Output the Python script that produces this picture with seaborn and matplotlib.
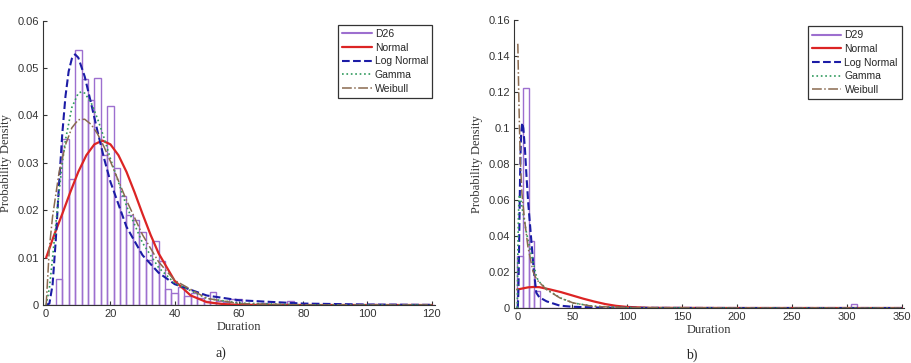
import matplotlib
matplotlib.use("Agg")
import matplotlib.pyplot as plt
import seaborn as sns
from matplotlib.lines import Line2D

# ---- panel a) D26 ----
d26_centers = [3, 5, 7, 9, 11, 13, 15, 17, 19, 21, 23, 25, 27, 29, 31, 33, 35, 37, 39, 41,
               43, 45, 47, 49, 51, 53, 55, 57, 59, 67, 75, 101, 107]
d26_heights = [0.0055, 0.035, 0.0266, 0.0538, 0.0476, 0.0433, 0.0478, 0.0316, 0.042, 0.029,
               0.023, 0.019, 0.018, 0.0153, 0.0095, 0.0134, 0.0093, 0.0033, 0.0026, 0.0039,
               0.0018, 0.0025, 0.0014, 0.0008, 0.0027, 0.0008, 0.0006, 0.0012, 0.0012, 0.0005,
               0.0008, 0.0003, 0.0003]

a_norm_x = [0, 2.5, 5, 7.5, 10, 12.5, 15, 17.5, 20, 22.5, 25, 27.5, 30, 32.5, 35, 40, 45, 50, 55, 60, 80, 120]
a_norm_y = [0.0100, 0.0148, 0.0192, 0.0238, 0.0281, 0.0316, 0.0339, 0.0347, 0.0339, 0.0316, 0.0281,
            0.0238, 0.0192, 0.0148, 0.0109, 0.0051, 0.0020, 0.0006, 0.0002, 0.00003, 0, 0]
a_logn_x = [0, 1, 2, 3, 4, 5, 6, 7, 8, 9, 10, 12, 14, 16, 18, 20, 25, 30, 35, 40, 50, 60, 80, 100, 120]
a_logn_y = [0, 0.0003, 0.0043, 0.0138, 0.0254, 0.036, 0.044, 0.0493, 0.052, 0.0529, 0.0522, 0.0482,
            0.0425, 0.0366, 0.031, 0.026, 0.0165, 0.0105, 0.0068, 0.0044, 0.002, 0.001, 0.0003,
            0.0001, 0.00003]
a_gam_x = [0, 1, 2, 3, 4, 5, 6, 8, 10, 11, 12, 14, 16, 18, 20, 25, 30, 35, 40, 50, 60, 80, 120]
a_gam_y = [0, 0.0036, 0.0100, 0.0170, 0.0238, 0.0298, 0.0348, 0.0417, 0.0447, 0.0450, 0.0447,
           0.0427, 0.0393, 0.0353, 0.0309, 0.0209, 0.0131, 0.0079, 0.0046, 0.0014, 0.0004, 0.00003, 0]
a_weib_x = [0, 1, 2, 4, 6, 8, 10, 12, 14, 16, 18, 20, 25, 30, 35, 40, 50, 60, 80, 120]
a_weib_y = [0, 0.0121, 0.0187, 0.0279, 0.0338, 0.0374, 0.0391, 0.0392, 0.0381, 0.0361, 0.0334,
            0.0303, 0.0221, 0.0148, 0.0091, 0.0052, 0.0014, 0.0003, 0, 0]

# ---- panel b) D29 ----
d29_centers = [2.6, 7.7, 12.9, 18.0, 306.4]
d29_heights = [0.029, 0.1225, 0.037, 0.0092, 0.002]

b_norm_x = [0, 10, 15, 20, 30, 40, 50, 60, 70, 80, 90, 100, 120, 200, 350]
b_norm_y = [0.0103, 0.0115, 0.0117, 0.0116, 0.0103, 0.0088, 0.0070, 0.0052, 0.0036, 0.0022,
            0.0012, 0.0006, 0.0001, 0, 0]
b_logn_x = [0, 0.5, 1, 1.5, 2, 2.5, 3, 3.5, 4.5, 5.5, 7, 8.5, 10, 12.7, 15, 17.3, 20, 26.7,
            38.8, 50, 70, 100, 200, 350]
b_logn_y = [0, 0.001, 0.009, 0.028, 0.051, 0.072, 0.087, 0.097, 0.103, 0.100, 0.088, 0.072,
            0.058, 0.038, 0.021, 0.0085, 0.006, 0.0037, 0.0013, 0.0007, 0.0003, 0.0001, 0, 0]
b_gam_x = [0, 0.5, 1, 1.5, 2, 3, 4, 6, 8, 10, 12.7, 15, 17.6, 20, 26.7, 38.8, 51, 69, 100, 200, 350]
b_gam_y = [0, 0.03, 0.05, 0.06, 0.063, 0.061, 0.057, 0.050, 0.043, 0.037, 0.030, 0.024, 0.017,
           0.0145, 0.0105, 0.0057, 0.0028, 0.0010, 0.0002, 0, 0]
b_weib_x = [0.3, 0.5, 1.2, 1.8, 2.7, 4.2, 6.6, 9.7, 14.2, 17.6, 26.7, 38.8, 51, 69, 100, 200, 350]
b_weib_y = [0.147, 0.1465, 0.123, 0.105, 0.0825, 0.064, 0.049, 0.034, 0.0205, 0.0158, 0.0102,
            0.0056, 0.0028, 0.0009, 0.0002, 0, 0]

a_xticks = [0, 20, 40, 60, 80, 100, 120]
a_yticks = [0, 0.01, 0.02, 0.03, 0.04, 0.05, 0.06]
a_ylabels = ["0", "0.01", "0.02", "0.03", "0.04", "0.05", "0.06"]
b_xticks = [0, 50, 100, 150, 200, 250, 300, 350]
b_yticks = [0, 0.02, 0.04, 0.06, 0.08, 0.1, 0.12, 0.14, 0.16]
b_ylabels = ["0", "0.02", "0.04", "0.06", "0.08", "0.1", "0.12", "0.14", "0.16"]

PURPLE = "#9d6fcf"
RED = "#dc2424"
BLUE = "#1c1ca6"
GREEN = "#2f9a5c"
BROWN = "#8a6a50"

sns.set_style("ticks")
plt.rcParams["font.family"] = ["Liberation Sans", "DejaVu Sans"]

fig = plt.figure(figsize=(9.12, 3.63), dpi=100)
ax_a = fig.add_axes([0.0471, 0.1598, 0.4298, 0.7832])
ax_b = fig.add_axes([0.5636, 0.1515, 0.4276, 0.7923])


def draw_panel(ax, centers, heights, bw, brange, curves, name):
    sns.histplot(x=centers, weights=heights, binwidth=bw, binrange=brange, fill=False,
                 color=PURPLE, linewidth=1.0, ax=ax, stat="count")
    styles = [("Normal", RED, "-", 1.6), ("Log Normal", BLUE, "--", 1.5),
              ("Gamma", GREEN, ":", 1.2), ("Weibull", BROWN, "-.", 1.1)]
    handles = [Line2D([0], [0], color=PURPLE, lw=1.5, label=name)]
    for (lab, col, ls, lw), (cx, cy) in zip(styles, curves):
        sns.lineplot(x=cx, y=cy, color=col, linestyle=ls, linewidth=lw, ax=ax,
                     estimator=None, sort=False)
        handles.append(Line2D([0], [0], color=col, lw=lw, linestyle=ls, label=lab))
    return handles


h_a = draw_panel(ax_a, d26_centers, d26_heights, 2, (1, 121), [
    (a_norm_x, a_norm_y), (a_logn_x, a_logn_y), (a_gam_x, a_gam_y), (a_weib_x, a_weib_y)], "D26")
h_b = draw_panel(ax_b, d29_centers, d29_heights, 5.15, (0, 309), [
    (b_norm_x, b_norm_y), (b_logn_x, b_logn_y), (b_gam_x, b_gam_y), (b_weib_x, b_weib_y)], "D29")

for ax, xt, yt, yl, xlim, ylim, h, anchor, tag in [
        (ax_a, a_xticks, a_yticks, a_ylabels, (-1, 121), (0, 0.06), h_a, (0.993, 0.985), "a)"),
        (ax_b, b_xticks, b_yticks, b_ylabels, (-3, 352), (0, 0.16), h_b, (0.995, 0.98), "b)")]:
    ax.set_xlim(*xlim)
    ax.set_ylim(*ylim)
    ax.set_xticks(xt)
    ax.set_xticklabels([str(v) for v in xt])
    ax.set_yticks(yt)
    ax.set_yticklabels(yl)
    ax.tick_params(direction="in", length=3, width=0.8, labelsize=8, colors="#333333",
                   pad=3)
    for s in ["top", "right"]:
        ax.spines[s].set_visible(False)
    for s in ["left", "bottom"]:
        ax.spines[s].set_color("#333333")
        ax.spines[s].set_linewidth(0.8)
    ax.set_xlabel("Duration", family=["Liberation Serif"], fontsize=9, color="#333333",
                  labelpad=1)
    ax.set_ylabel("Probability Density", family=["Liberation Serif"], fontsize=9,
                  color="#333333", labelpad=4)
    leg = ax.legend(handles=h, loc="upper right", bbox_to_anchor=anchor, borderaxespad=0,
                    fontsize=7.5, handlelength=2.8, labelspacing=0.35, handletextpad=0.3,
                    borderpad=0.4, fancybox=False, framealpha=1)
    leg.get_frame().set_edgecolor("#333333")
    leg.get_frame().set_linewidth(0.9)

fig.text(221 / 912, 1 - 353 / 363, "a)", family=["Liberation Serif"], fontsize=10,
         ha="center", va="center")
fig.text(692 / 912, 1 - 355 / 363, "b)", family=["Liberation Serif"], fontsize=10,
         ha="center", va="center")

fig.savefig("out.png", dpi=100)
